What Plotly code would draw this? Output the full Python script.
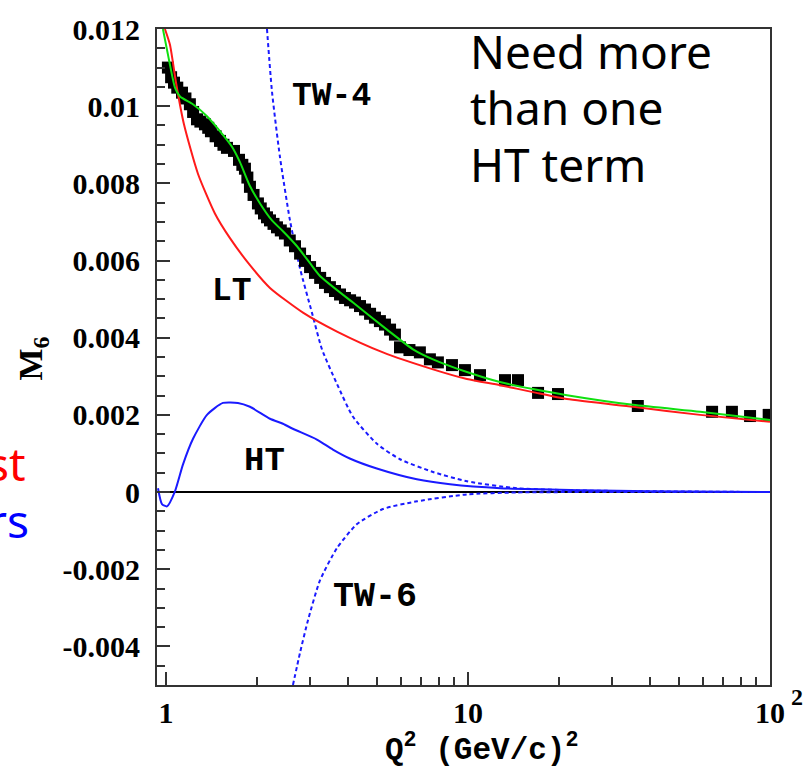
import plotly.graph_objects as go

# ---------------- data ----------------
data_q2 = [1.015, 1.04, 1.063, 1.09, 1.13, 1.16, 1.20, 1.23, 1.267, 1.30, 1.346, 1.38,
           1.409, 1.46, 1.51, 1.55, 1.592, 1.68, 1.745, 1.79, 1.826, 1.86, 1.897, 1.95,
           2.016, 2.06, 2.111, 2.16, 2.21, 2.27, 2.331, 2.40, 2.477, 2.57, 2.674, 2.78,
           2.886, 3.0, 3.114, 3.24, 3.362, 3.49, 3.628, 3.77, 3.914, 4.07, 4.225, 4.39,
           4.56, 4.74, 4.92, 5.11, 5.31, 5.52, 5.73, 5.955, 6.4, 6.93, 7.48, 7.95, 8.85,
           9.77, 10.96, 13.26, 14.64, 17.06, 19.86, 36.5, 64.3, 74.8, 85.9, 99.0]
data_m6 = [0.01100, 0.01075, 0.01061, 0.01048, 0.01035, 0.01020, 0.01005, 0.00985,
           0.00966, 0.00960, 0.00953, 0.00944, 0.00935, 0.00922, 0.00910, 0.00900,
           0.00892, 0.00884, 0.00861, 0.00848, 0.00838, 0.00815, 0.00791, 0.00770,
           0.00748, 0.00735, 0.00722, 0.00712, 0.00704, 0.00695, 0.00686, 0.00678,
           0.00670, 0.00652, 0.00637, 0.00618, 0.00599, 0.00583, 0.00568, 0.00555,
           0.00542, 0.00531, 0.00521, 0.00512, 0.00503, 0.00497, 0.00491, 0.00482,
           0.00473, 0.00462, 0.00452, 0.00443, 0.00434, 0.00421, 0.00408, 0.00375,
           0.00368, 0.00362, 0.00344, 0.00336, 0.00329, 0.00316, 0.00303, 0.00290,
           0.00290, 0.00257, 0.00254, 0.00223, 0.00208, 0.00208, 0.00197, 0.00200]

total_q2 = [0.977, 1.031, 1.071, 1.113, 1.228, 1.367, 1.532, 1.654, 1.758, 1.897, 2.048,
            2.244, 2.44, 2.716, 2.998, 3.235, 4.162, 5.393, 6.577, 7.66, 9.92, 12.76,
            16.41, 21.27, 35.2, 58.7, 100.0]
total_m6 = [0.01200, 0.01107, 0.01048, 0.01025, 0.01005, 0.00974, 0.00929, 0.00895,
            0.00855, 0.00793, 0.00748, 0.00704, 0.00676, 0.00637, 0.00593, 0.00560,
            0.00491, 0.00421, 0.00370, 0.00344, 0.00311, 0.00285, 0.00267, 0.00251,
            0.00226, 0.00208, 0.00187]

lt_q2 = [0.992, 1.031, 1.08, 1.147, 1.276, 1.452, 1.629, 1.897, 2.21, 2.842, 3.684,
         5.23, 7.66, 9.92, 12.76, 16.41, 21.27, 35.2, 58.7, 100.0]
lt_m6 = [0.01200, 0.01159, 0.01060, 0.00953, 0.00825, 0.00722, 0.00658, 0.00588,
         0.00529, 0.00465, 0.00416, 0.00362, 0.00318, 0.00293, 0.00277, 0.00259,
         0.00241, 0.00221, 0.00200, 0.00182]

ht_q2 = [0.941, 0.970, 1.008, 1.071, 1.138, 1.229, 1.367, 1.544, 1.731, 1.897, 2.21,
         2.44, 2.63, 3.16, 3.57, 4.06, 4.99, 6.77, 8.72, 12.8, 24.0, 40.0, 100.0]
ht_m6 = [0.00010, -0.00031, -0.00037, 0.00002, 0.00071, 0.00138, 0.00200, 0.00231,
         0.00231, 0.00221, 0.00190, 0.00177, 0.00164, 0.00136, 0.00110, 0.00087,
         0.00061, 0.00033, 0.00020, 0.00010, 0.00005, 0.00002, 0.0]

tw4_q2 = [2.16, 2.244, 2.385, 2.574, 2.778, 3.043, 3.285, 3.684, 4.162, 4.997, 5.955,
          7.66, 9.92, 14.5, 24.0, 100.0]
tw4_m6 = [0.01200, 0.01038, 0.00868, 0.00704, 0.00580, 0.00465, 0.00370, 0.00280,
          0.00195, 0.00125, 0.00085, 0.00052, 0.00028, 0.00010, 0.00004, 0.0]

tw6_q2 = [2.633, 2.778, 2.953, 3.235, 3.684, 4.291, 5.23, 6.78, 9.92, 14.5, 24.0, 100.0]
tw6_m6 = [-0.00500, -0.00417, -0.00332, -0.00229, -0.00145, -0.00083, -0.00044,
          -0.00024, -0.00006, -0.00001, 0.0, 0.0]

y_ticks = [-0.004, -0.002, 0.0, 0.002, 0.004, 0.006, 0.008, 0.01, 0.012]
y_ticktext = ["-0.004", "-0.002", "0", "0.002", "0.004", "0.006", "0.008", "0.01", "0.012"]
y_minor = [-0.0045, -0.0035, -0.003, -0.0025, -0.0015, -0.001, -0.0005, 0.0005, 0.001,
           0.0015, 0.0025, 0.003, 0.0035, 0.0045, 0.005, 0.0055, 0.0065, 0.007, 0.0075,
           0.0085, 0.009, 0.0095, 0.0105, 0.011, 0.0115]
x_ticks = [1, 10, 100]
x_ticktext = ["1", "10", "10"]
x_minor = [2, 3, 4, 5, 6, 7, 8, 9, 20, 30, 40, 50, 60, 70, 80, 90]

# ---------------- figure ----------------
W, H = 805, 776
L, R, T, B = 157, 770, 24, 685


def pxx(x):
    return (x - L) / (R - L)


def pxy(y):
    return (B - y) / (B - T)


fig = go.Figure()

BLUE = "#1a1aff"
SM = 0.6
fig.add_trace(go.Scatter(x=tw4_q2, y=tw4_m6, mode="lines",
                         line=dict(color=BLUE, width=2, dash="4px,3px", shape="spline", smoothing=SM)))
fig.add_trace(go.Scatter(x=tw6_q2, y=tw6_m6, mode="lines",
                         line=dict(color=BLUE, width=2, dash="4px,3px", shape="spline", smoothing=SM)))
fig.add_trace(go.Scatter(x=ht_q2, y=ht_m6, mode="lines",
                         line=dict(color=BLUE, width=2, shape="spline", smoothing=SM)))
fig.add_trace(go.Scatter(x=data_q2, y=data_m6, mode="markers",
                         marker=dict(symbol="square", size=12, color="black")))
fig.add_trace(go.Scatter(x=lt_q2, y=lt_m6, mode="lines",
                         line=dict(color="#ff1a1a", width=2, shape="spline", smoothing=SM)))
fig.add_trace(go.Scatter(x=total_q2, y=total_m6, mode="lines",
                         line=dict(color="#10e010", width=2, shape="spline", smoothing=SM)))

SERIF = "Liberation Serif"
MONO = "Liberation Mono"
TICKFONT = dict(family=SERIF, size=30, color="black", weight="bold")

fig.update_layout(
    width=W, height=H,
    margin=dict(l=L, r=W - R, t=T, b=H - B),
    paper_bgcolor="white", plot_bgcolor="white",
    showlegend=False,
    xaxis=dict(type="log", range=[-0.0297, 2.0], showgrid=False, zeroline=False,
               showline=True, linecolor="#333333", linewidth=2, mirror=True,
               ticks="inside", ticklen=13, tickwidth=2, tickcolor="#333333",
               tickmode="array", tickvals=x_ticks, ticktext=x_ticktext,
               tickfont=TICKFONT, ticklabelstandoff=0,
               minor=dict(tickmode="array", tickvals=x_minor, ticks="inside",
                          ticklen=8, tickwidth=2, tickcolor="#333333")),
    yaxis=dict(range=[-0.005, 0.012], showgrid=False,
               zeroline=True, zerolinecolor="black", zerolinewidth=1.5,
               showline=True, linecolor="#333333", linewidth=2, mirror=True,
               ticks="inside", ticklen=13, tickwidth=2, tickcolor="#333333",
               tickmode="array", tickvals=y_ticks, ticktext=y_ticktext,
               tickfont=TICKFONT, ticklabelstandoff=9,
               minor=dict(tickmode="array", tickvals=y_minor, ticks="inside",
                          ticklen=8, tickwidth=2, tickcolor="#333333")),
)

ann = []


def label(text, x, y, size, family, color="black", xanchor="center", bold=True, angle=0):
    ann.append(dict(text=text, x=pxx(x), y=pxy(y), xref="paper", yref="paper",
                    xanchor=xanchor, yanchor="middle", showarrow=False, textangle=angle,
                    font=dict(family=family, size=size, color=color,
                              weight="bold" if bold else "normal")))


# exponent of the 10^2 tick label
label("2", 797, 697, 24, SERIF)

# curve labels
label("TW-4", 331, 92, 33, MONO)
label("LT", 232, 288, 33, MONO)
label("HT", 264, 459, 34, MONO)
label("TW-6", 375, 596, 35, MONO)

# axis titles
label("Q<sup>2</sup> (GeV/c)<sup>2</sup>", 481, 748, 31, MONO)
label("M<sub>6</sub>", 33, 356, 34, SERIF, angle=-90)

# text overlay (top right)
for txt, yy in [("Need more", 46), ("than one", 103), ("HT term", 160)]:
    label(txt, 468, yy, 46, "Noto Sans", xanchor="left", bold=False)

# cropped slide text at left edge
label("st", 28, 461, 46, "Noto Sans", color="#ff0000", xanchor="right", bold=False)
label("rs", 31, 519, 46, "Noto Sans", color="#0000ff", xanchor="right", bold=False)

fig.update_layout(annotations=ann)
fig.write_html("out.html")
